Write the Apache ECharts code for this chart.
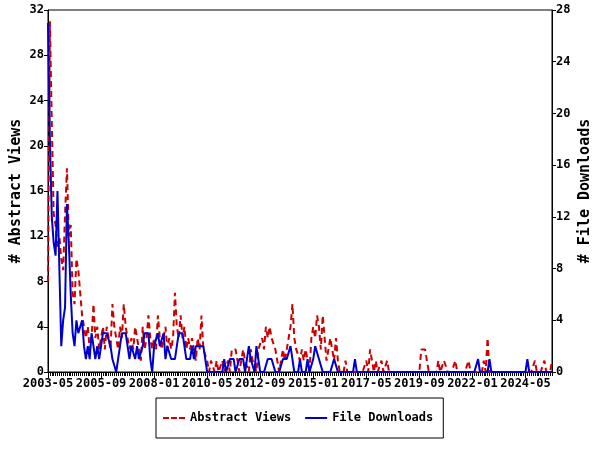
<!DOCTYPE html>
<html>
<head>
<meta charset="utf-8">
<script src="https://cdn.jsdelivr.net/npm/echarts@6/dist/echarts.min.js"></script>
<style>html,body{margin:0;padding:0;background:#fff}#c{width:600px;height:450px}</style>
</head>
<body>
<div id="c"></div>
<script>
// Monthly categories 2003-05 .. 2025-07
const startYear = 2003, startMonth = 5, monthCount = 267;
const months = [];
for (let k = 0; k < monthCount; k++) {
  const m0 = startMonth - 1 + k;
  const y = startYear + Math.floor(m0 / 12);
  const m = (m0 % 12) + 1;
  months.push(y + '-' + (m < 10 ? '0' + m : m));
}

const abstractViews = [
  8, 31, 22, 14, 13, 11, 12, 10, 9, 14,
  18, 12, 13, 7, 6, 10, 9, 7, 5, 4,
  3, 4, 2, 3, 6, 3, 4, 2, 3, 4,
  2, 4, 3, 2, 6, 4, 3, 2, 4, 3,
  6, 4, 3, 2, 3, 2, 4, 3, 2, 1,
  4, 2, 3, 5, 3, 2, 3, 2, 5, 3,
  2, 3, 4, 2, 3, 2, 3, 7, 4, 3,
  5, 3, 4, 2, 3, 2, 3, 2, 1, 3,
  2, 5, 2, 2, 1, 0, 1, 1, 0, 1,
  0, 0, 1, 0, 0, 1, 0, 2, 2, 2,
  1, 0, 1, 2, 1, 1, 0, 2, 1, 1,
  0, 2, 2, 3, 2, 4, 3, 4, 3, 3,
  2, 1, 0, 1, 2, 1, 2, 3, 4, 6,
  3, 2, 2, 1, 2, 1, 2, 1, 0, 3,
  4, 3, 5, 4, 2, 5, 3, 1, 2, 3,
  2, 1, 3, 1, 0, 0, 0, 1, 0, 0,
  0, 0, 0, 0, 0, 0, 0, 0, 1, 0,
  2, 1, 0, 1, 0, 0, 1, 0, 0, 1,
  0, 0, 0, 0, 0, 0, 0, 0, 0, 0,
  0, 0, 0, 0, 0, 0, 0, 2, 2, 2,
  1, 0, 0, 0, 0, 0, 1, 0, 0, 1,
  1, 0, 0, 0, 0, 1, 0, 0, 0, 0,
  0, 0, 1, 0, 0, 0, 0, 0, 0, 0,
  1, 0, 3, 0, 0, 0, 0, 0, 0, 0,
  0, 0, 0, 0, 0, 0, 0, 0, 0, 0,
  0, 0, 0, 0, 0, 0, 0, 1, 0, 0,
  0, 0, 1, 0, 0, 0, 1
];

const fileDownloads = [
  27, 18, 12, 10, 9, 14, 8, 2, 4, 5,
  13, 10, 6, 3, 2, 4, 3, 3, 4, 2,
  1, 2, 1, 3, 2, 1, 2, 1, 2, 3,
  3, 3, 3, 2, 1, 1, 0, 1, 2, 3,
  3, 3, 2, 1, 2, 2, 1, 2, 1, 1,
  2, 3, 3, 3, 1, 0, 2, 2, 3, 2,
  2, 3, 1, 2, 2, 1, 1, 1, 2, 3,
  3, 3, 2, 1, 1, 1, 2, 1, 2, 2,
  2, 2, 2, 1, 0, 0, 0, 0, 0, 0,
  0, 0, 0, 1, 0, 0, 1, 1, 1, 0,
  0, 1, 1, 1, 0, 1, 2, 1, 1, 0,
  2, 1, 0, 0, 0, 0, 1, 1, 1, 1,
  0, 0, 0, 0, 1, 1, 1, 1, 2, 1,
  0, 0, 0, 1, 0, 0, 0, 1, 0, 0,
  1, 2, 2, 1, 1, 0, 0, 0, 0, 0,
  0, 1, 1, 0, 0, 0, 0, 0, 0, 0,
  0, 0, 1, 0, 0, 0, 0, 0, 0, 0,
  0, 0, 0, 0, 0, 0, 0, 0, 0, 0,
  0, 0, 0, 0, 0, 0, 0, 0, 0, 0,
  0, 0, 0, 0, 0, 0, 0, 0, 0, 0,
  0, 0, 0, 0, 0, 0, 0, 0, 0, 0,
  0, 0, 0, 0, 0, 0, 0, 0, 0, 0,
  0, 0, 0, 0, 0, 0, 0, 1, 0, 0,
  0, 0, 0, 1, 0, 0, 0, 0, 0, 0,
  0, 0, 0, 0, 0, 0, 0, 0, 0, 0,
  0, 0, 0, 1, 0, 0, 0, 0, 0, 0,
  0, 0, 0, 0, 0, 0, 0
];

const leftTicks = {min: 0, max: 32, interval: 4};
const rightTicks = {min: 0, max: 28, interval: 4};
const labelEvery = 28;

const FONT = '"DejaVu Sans Mono", "Liberation Mono", monospace';
const RED = '#cc0000', BLUE = '#0000cc';
const DASH_ICON = 'path://M0,0h6v2h-6z M8,0h6v2h-6z M16,0h6v2h-6z';
const SOLID_ICON = 'path://M0,0h22v2h-22z';

const chart = echarts.init(document.getElementById('c'), null, {renderer: 'canvas'});
chart.setOption({
  animation: false,
  backgroundColor: '#fff',
  textStyle: {fontFamily: FONT, fontWeight: 'bold', color: '#000'},
  grid: {left: 48, right: 48, top: 10, bottom: 78, outerBoundsMode: 'none', containLabel: false,
         show: true, borderColor: '#000', borderWidth: 1, backgroundColor: 'transparent'},
  legend: {
    left: 156, top: 398,
    padding: [14, 10, 14, 7],
    borderColor: '#000', borderWidth: 1,
    itemWidth: 22, itemHeight: 3, itemGap: 14,
    textStyle: {fontFamily: FONT, fontSize: 12, fontWeight: 'bold', color: '#000'},
    data: [
      {name: 'Abstract Views', icon: DASH_ICON, itemStyle: {color: RED}},
      {name: 'File Downloads', icon: SOLID_ICON, itemStyle: {color: BLUE}}
    ]
  },
  xAxis: [{
    type: 'category', data: months, boundaryGap: false,
    axisLine: {lineStyle: {color: '#000', width: 1}},
    axisTick: {show: true, interval: 0, length: 4, lineStyle: {color: '#000'}},
    axisLabel: {interval: function (idx) { return idx % labelEvery === 0; },
                fontFamily: FONT, fontSize: 12, fontWeight: 'bold', color: '#000', margin: 6,
                hideOverlap: false},
    splitLine: {show: false}
  }, {
    type: 'category', data: months, boundaryGap: false, position: 'bottom',
    axisLine: {show: false},
    axisTick: {show: true, interval: function (idx) { return idx % labelEvery === 0; }, length: 6, lineStyle: {color: '#000'}},
    axisLabel: {show: false},
    splitLine: {show: false}
  }],
  yAxis: [{
    type: 'value', position: 'left',
    min: leftTicks.min, max: leftTicks.max, interval: leftTicks.interval,
    name: '# Abstract Views', nameLocation: 'middle', nameGap: 24, nameRotate: 90, nameMoveOverlap: false,
    nameTextStyle: {fontFamily: FONT, fontSize: 15, fontWeight: 'bold', color: '#000'},
    axisLine: {show: true, lineStyle: {color: '#000'}},
    axisTick: {show: true, length: 4, lineStyle: {color: '#000'}},
    axisLabel: {fontFamily: FONT, fontSize: 12, fontWeight: 'bold', color: '#000', margin: 4},
    splitLine: {show: false}
  }, {
    type: 'value', position: 'right',
    min: rightTicks.min, max: rightTicks.max, interval: rightTicks.interval,
    name: '# File Downloads', nameLocation: 'middle', nameGap: 26, nameRotate: 90, nameMoveOverlap: false,
    nameTextStyle: {fontFamily: FONT, fontSize: 15, fontWeight: 'bold', color: '#000'},
    axisLine: {show: true, lineStyle: {color: '#000'}},
    axisTick: {show: true, length: 4, lineStyle: {color: '#000'}},
    axisLabel: {fontFamily: FONT, fontSize: 12, fontWeight: 'bold', color: '#000', margin: 4},
    splitLine: {show: false}
  }],
  series: [{
    name: 'Abstract Views', type: 'line', xAxisIndex: 0, yAxisIndex: 0,
    data: abstractViews, showSymbol: false, symbol: 'none',
    lineStyle: {color: RED, width: 2, type: [6, 4]},
    itemStyle: {color: RED}, z: 2
  }, {
    name: 'File Downloads', type: 'line', xAxisIndex: 0, yAxisIndex: 1,
    data: fileDownloads, showSymbol: false, symbol: 'none',
    lineStyle: {color: BLUE, width: 2},
    itemStyle: {color: BLUE}, z: 3
  }]
});
</script>
</body>
</html>
